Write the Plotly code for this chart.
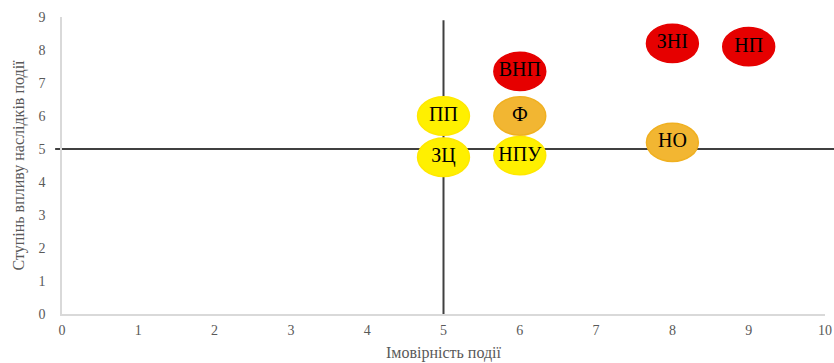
import plotly.graph_objects as go

labels = ["ПП", "ЗЦ", "ВНП", "Ф", "НПУ", "ЗНІ", "НП", "НО"]
prob = [5, 5, 6, 6, 6, 8, 9, 8]
impact = [6, 4.75, 7.35, 6, 4.8, 8.2, 8.1, 5.2]
fills = ["#FFF000", "#FFF000", "#E60000", "#F2B632", "#FFF000", "#E60000", "#E60000", "#F2B632"]
borders = ["#FFE800", "#FFE800", "#E60000", "#F0B020", "#FFE800", "#E60000", "#E60000", "#F0B020"]
x_ticks = list(range(0, 11))
y_ticks = list(range(0, 10))
split_x = 5
split_y = 5

rx, ry = 0.34, 0.58
SERIF = "'Liberation Serif', 'Times New Roman', 'DejaVu Serif', serif"

shapes = [
    dict(type="line", xref="x", yref="y", x0=split_x, x1=split_x,
         y0=0, y1=8.9, line=dict(color="#404040", width=2), layer="below"),
    dict(type="line", xref="paper", yref="y", x0=-0.009, x1=1.02,
         y0=split_y, y1=split_y, line=dict(color="#404040", width=2), layer="below"),
]
for xv, yv, f, b in zip(prob, impact, fills, borders):
    shapes.append(dict(type="circle", xref="x", yref="y",
                       x0=xv - rx, x1=xv + rx, y0=yv - ry, y1=yv + ry,
                       fillcolor=f, line=dict(color=b, width=1.5), layer="below"))

fig = go.Figure()
fig.add_trace(go.Scatter(x=prob, y=impact, mode="text", text=labels,
                         textfont=dict(family=SERIF, size=20, color="#000000"),
                         hoverinfo="skip", showlegend=False, cliponaxis=False))

fig.update_layout(
    width=834, height=363,
    margin=dict(l=62, r=9, t=17, b=49),
    paper_bgcolor="white", plot_bgcolor="white",
    shapes=shapes,
    font=dict(family=SERIF, color="#595959"),
    xaxis=dict(range=[0, 10], tickvals=x_ticks, showgrid=False, zeroline=False,
               showline=True, linecolor="#D9D9D9", linewidth=1.5, automargin=False,
               tickfont=dict(family=SERIF, size=14, color="#595959"), ticks="", ticklabelstandoff=2,
               title=dict(text="Імовірність події", font=dict(family=SERIF, size=16, color="#595959"), standoff=10)),
    yaxis=dict(range=[0, 9], tickvals=y_ticks, showgrid=False, zeroline=False,
               showline=True, linecolor="#D9D9D9", linewidth=1.5, automargin=False,
               tickfont=dict(family=SERIF, size=14, color="#595959"), ticks="", ticklabelstandoff=12,
               title=dict(text="Ступінь впливу наслідків події", font=dict(family=SERIF, size=16, color="#595959"), standoff=10)),
)

fig.write_html("out.html", config={"displayModeBar": False},
               post_script="document.body.style.margin='0px';document.body.style.overflow='hidden';")
